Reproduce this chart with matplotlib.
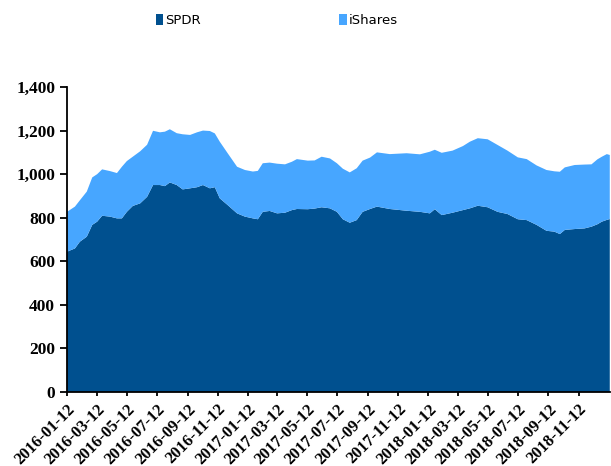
import matplotlib
matplotlib.use("Agg")
import matplotlib.pyplot as plt
import matplotlib.dates as mdates
from matplotlib.patches import Patch
from matplotlib.ticker import FuncFormatter
import pandas as pd

# values (tonnes)
dates = [
    "2016-01-12", "2016-01-28", "2016-02-07", "2016-02-21", "2016-03-03",
    "2016-03-13", "2016-03-23", "2016-04-08", "2016-04-22", "2016-05-02",
    "2016-05-12", "2016-05-24", "2016-06-08", "2016-06-22", "2016-07-04",
    "2016-07-18", "2016-07-28", "2016-08-07", "2016-08-21", "2016-09-02",
    "2016-09-17", "2016-10-01", "2016-10-13", "2016-10-27", "2016-11-06",
    "2016-11-16", "2016-12-02", "2016-12-21", "2017-01-06", "2017-01-22",
    "2017-02-01", "2017-02-11", "2017-02-25", "2017-03-12", "2017-03-28",
    "2017-04-11", "2017-04-21", "2017-05-13", "2017-05-27", "2017-06-10",
    "2017-06-27", "2017-07-11", "2017-07-23", "2017-08-06", "2017-08-20",
    "2017-09-01", "2017-09-16", "2017-09-30", "2017-10-26", "2017-11-29",
    "2017-12-26", "2018-01-15", "2018-01-25", "2018-02-08", "2018-03-02",
    "2018-03-23", "2018-04-06", "2018-04-22", "2018-05-12", "2018-06-01",
    "2018-06-21", "2018-07-12", "2018-07-30", "2018-08-19", "2018-09-08",
    "2018-09-24", "2018-10-05", "2018-10-15", "2018-11-04", "2018-11-24",
    "2018-12-08", "2018-12-20", "2018-12-29", "2019-01-08", "2019-01-14",
]
spdr = [
    644, 659, 690, 713, 767, 782, 809, 805, 797, 797,
    827, 854, 866, 896, 950, 950, 945, 962, 950, 930,
    935, 940, 950, 935, 940, 889, 858, 820, 805, 797,
    793, 827, 831, 820, 823, 835, 840, 839, 842, 848,
    843, 827, 793, 777, 789, 827, 840, 851, 840, 832,
    827, 820, 839, 812, 823, 835, 843, 855, 848, 827,
    817, 793, 789, 767, 740, 736, 725, 744, 748, 751,
    759, 770, 782, 790, 794,
]
total = [
    827, 851, 880, 920, 985, 1000, 1022, 1014, 1005, 1034,
    1060, 1080, 1105, 1135, 1199, 1192, 1195, 1206, 1188, 1183,
    1180, 1192, 1200, 1198, 1187, 1149, 1096, 1034, 1019, 1012,
    1015, 1050, 1053, 1048, 1045, 1057, 1069, 1062, 1063, 1080,
    1072, 1050, 1025, 1008, 1027, 1062, 1076, 1100, 1092, 1096,
    1091, 1103, 1112, 1098, 1108, 1129, 1149, 1165, 1160, 1134,
    1108, 1077, 1069, 1040, 1019, 1013, 1011, 1031, 1042, 1044,
    1045, 1068, 1080, 1092, 1088,
]
ishares = [t - s for t, s in zip(total, spdr)]
# ticks every two months on the 12th
tick_dates = pd.date_range("2016-01-01", "2018-11-01", freq="2MS") + pd.Timedelta(days=11)

dark = "#00508F"
light = "#47A6FF"

x = pd.to_datetime(dates)
fig = plt.figure(figsize=(6.11, 4.66), dpi=100)
ax = fig.add_axes([0.1097, 0.1588, 0.8883, 0.6545])
ax.stackplot(x, spdr, ishares, colors=[dark, light], linewidth=0)

ax.set_ylim(0, 1400)
ax.set_yticks(range(0, 1401, 200))
ax.yaxis.set_major_formatter(FuncFormatter(lambda v, p: f"{int(v):,}"))
ax.set_xlim(x[0], x[-1])
ax.set_xticks(tick_dates)
ax.xaxis.set_major_formatter(mdates.DateFormatter("%Y-%m-%d"))

for s in ("top", "right"):
    ax.spines[s].set_visible(False)
for s in ("left", "bottom"):
    ax.spines[s].set_linewidth(1.3)
    ax.spines[s].set_color("black")
ax.tick_params(axis="y", direction="out", length=5, width=1.3)
ax.tick_params(axis="x", direction="out", length=3, width=1.3)
for lab in ax.get_yticklabels():
    lab.set_fontfamily("Liberation Serif")
    lab.set_fontweight("bold")
    lab.set_fontsize(12.5)
for lab in ax.get_xticklabels():
    lab.set_fontfamily("Liberation Serif")
    lab.set_fontweight("bold")
    lab.set_fontsize(12)
    lab.set_rotation(45)
    lab.set_ha("right")
    lab.set_rotation_mode("anchor")

handles = [Patch(facecolor=dark, label="SPDR"), Patch(facecolor=light, label="iShares")]
fig.legend(handles=handles, loc="center", bbox_to_anchor=(0.453, 0.955), ncol=2,
           frameon=False, handlelength=0.6, handleheight=0.9, handletextpad=0.15,
           columnspacing=10.45, prop={"family": "DejaVu Sans", "size": 9.5})

fig.savefig("out.png", dpi=100)
